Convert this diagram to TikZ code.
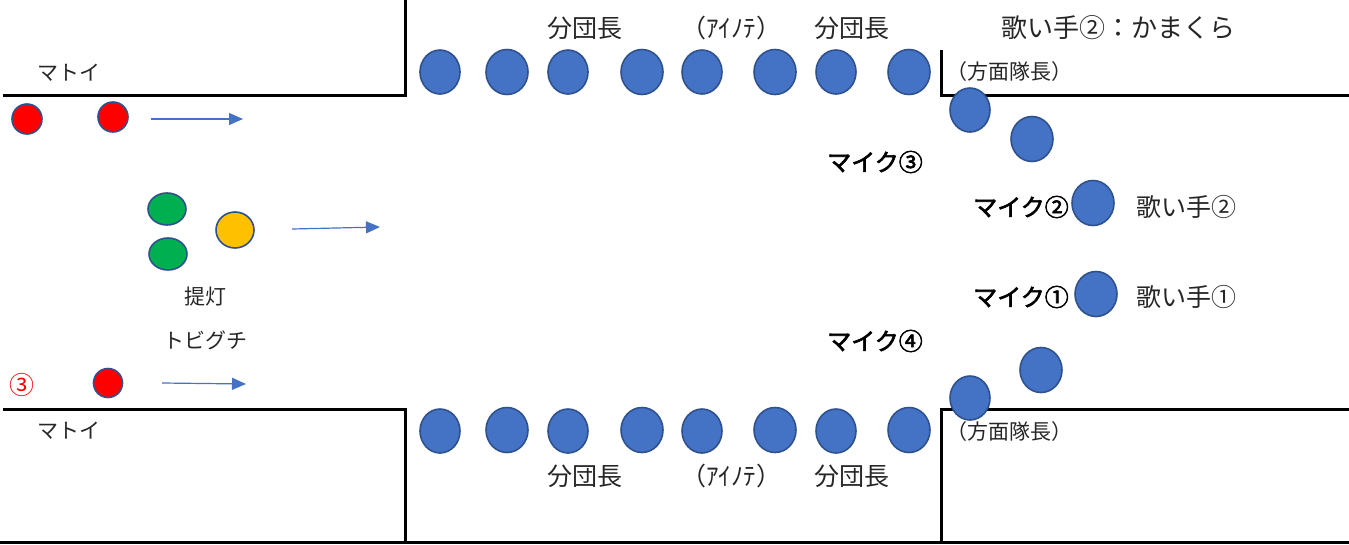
\documentclass[tikz,border=0pt]{standalone}
\usepackage{fontspec}
\setmainfont{Noto Sans CJK JP}[AutoFakeBold=2.5]
\usetikzlibrary{arrows.meta,shapes.geometric}
\definecolor{pblue}{HTML}{4472C4}
\definecolor{pedge}{HTML}{2F528F}
\definecolor{pred}{HTML}{FF0000}
\definecolor{pgreen}{HTML}{00B050}
\definecolor{pyellow}{HTML}{FFC000}
\definecolor{txt}{HTML}{262626}
\begin{document}
\begin{tikzpicture}[x=1pt,y=-1pt,
  wall/.style={line width=3pt,black},
  dot/.style={ellipse,draw=pedge,line width=1.6pt,inner sep=0pt},
  person/.style={dot,fill=pblue,minimum width=40pt,minimum height=44pt},
  personb/.style={dot,fill=pblue,minimum width=42pt,minimum height=45pt},
  reddot/.style={dot,fill=pred,minimum width=30pt,minimum height=30pt},
  greendot/.style={dot,fill=pgreen,minimum width=38pt,minimum height=32pt},
  yellowdot/.style={dot,fill=pyellow,minimum width=38pt,minimum height=36pt},
  lbl/.style={text=txt,inner sep=0pt,font=\fontsize{25}{25}\selectfont},
  mlbl/.style={text=txt,inner sep=0pt,font=\fontsize{21}{21}\selectfont},
  slbl/.style={text=txt,inner sep=0pt,font=\fontsize{21}{21}\selectfont},
  mic/.style={text=black,inner sep=0pt,font=\fontsize{24}{24}\selectfont\bfseries},
  move/.style={draw=pblue,line width=1.2pt,-{Triangle[length=14pt,width=12pt]}}
]
\useasboundingbox (0,0) rectangle (1349,544);

% walls
\draw[wall] (3,95) -- (405,95) -- (405,0);
\draw[wall] (941,50) -- (941,95) -- (1349,95);
\draw[wall] (3,409) -- (405,409) -- (405,544);
\draw[wall] (941,544) -- (941,409) -- (1349,409);
\draw[wall] (0,542) -- (1349,542);

% top row
\node[person]  (t1) at (440,72) {};
\node[personb] (t2) at (507,72) {};
\node[person]  (t3) at (568,72) {};
\node[personb] (t4) at (642,72) {};
\node[person]  (t5) at (702,72) {};
\node[personb] (t6) at (775,72) {};
\node[person]  (t7) at (836,72) {};
\node[personb] (t8) at (909,72) {};
% bottom row
\node[person]  (b1) at (440,431) {};
\node[personb] (b2) at (507,430) {};
\node[person]  (b3) at (568,431) {};
\node[personb] (b4) at (642,430) {};
\node[person]  (b5) at (702,431) {};
\node[personb] (b6) at (775,430) {};
\node[person]  (b7) at (836,431) {};
\node[personb] (b8) at (909,430) {};
% right side
\node[person]  (r1) at (970,110) {};
\node[personb] (r2) at (1032,139) {};
\node[personb] (r3) at (1093,203) {};
\node[personb] (r4) at (1096,294) {};
\node[personb] (r5) at (1041,370) {};
\node[person]  (r6) at (970,398) {};

% left side
\node[reddot] (m1) at (27,119) {};
\node[reddot] (m2) at (113,117) {};
\node[reddot,minimum width=29pt,minimum height=29pt] (m3) at (108,383) {};
\node[greendot] (g1) at (167,209) {};
\node[greendot] (g2) at (168,254) {};
\node[yellowdot] (y1) at (235,230) {};

% arrows
\coordinate (a1s) at (151,119); \coordinate (a1e) at (243,119);
\coordinate (a2s) at (292,229); \coordinate (a2e) at (380,227);
\coordinate (a3s) at (162,383); \coordinate (a3e) at (246,384);
\draw[move] (a1s) -- (a1e);
\draw[move] (a2s) -- (a2e);
\draw[move] (a3s) -- (a3e);

% labels
\node[mlbl] (mt1) at (69,73) {マトイ};
\node[mlbl] (mt2) at (69,431) {マトイ};
\node[mlbl] (cho) at (205,297) {提灯};
\node[mlbl] (tob) at (205,340) {トビグチ};
\node[lbl,text=pred] (n3) at (22,385) {③};

\node[lbl] (d1) at (585,28) {分団長};
\node[lbl] (ai1) at (731,28) {（ｱｲﾉﾃ）};
\node[lbl] (d2) at (852,28) {分団長};
\node[lbl] (d3) at (585,476) {分団長};
\node[lbl] (ai2) at (731,476) {（ｱｲﾉﾃ）};
\node[lbl] (d4) at (852,476) {分団長};

\node[lbl,font=\fontsize{26}{26}\selectfont] (kama) at (1118,28) {歌い手②：かまくら};
\node[slbl] (h1) at (1009,72) {（方面隊長）};
\node[slbl] (h2) at (1009,432) {（方面隊長）};

\node[mic] (mk3) at (875,162) {マイク③};
\node[mic] (mk2) at (1021,207) {マイク②};
\node[mic] (mk1) at (1021,297) {マイク①};
\node[mic] (mk4) at (875,341) {マイク④};
\node[lbl] (u2) at (1186,207) {歌い手②};
\node[lbl] (u1) at (1186,297) {歌い手①};
\end{tikzpicture}
\end{document}
